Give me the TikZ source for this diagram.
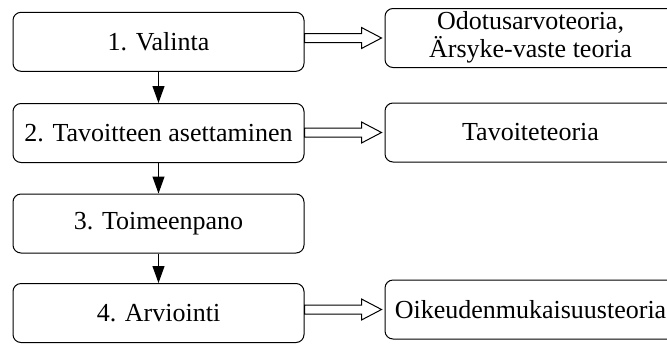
\documentclass[tikz,border=0pt]{standalone}
\usepackage{fontspec}
\setmainfont{Liberation Serif}
\newcommand{\stagefont}{\fontsize{13}{12.3}\selectfont}
\usetikzlibrary{arrows.meta,calc}
\begin{document}
\begin{tikzpicture}[x=0.5pt,y=-0.5pt,
  stage/.style={draw,line width=0.5pt,rounded corners=4pt,minimum width=145.5pt,
    minimum height=29.5pt,inner sep=0pt,align=center,font=\stagefont},
  flow/.style={line width=0.5pt,-{Triangle[length=8.5pt,width=6pt]}},
  blockarrow/.style={draw,line width=0.5pt,fill=white,line join=miter}]
\useasboundingbox (0,0) rectangle (667,343);
\clip (0,0) rectangle (667,343);
% process stages
\node[stage] (s1) at (158.5,41.8) {1. Valinta};
\node[stage] (s2) at (158.5,133) {2. Tavoitteen asettaminen};
\node[stage] (s3) at (158.5,223.5) {3. Toimeenpano};
\node[stage] (s4) at (158.5,313) {4. Arviointi};
% related theories
\node[stage] (t1) at (530.5,38) {\raisebox{-2.5pt}{\begin{tabular}{@{}c@{}}Odotusarvoteoria,\\Ärsyke-vaste teoria\end{tabular}}};
\node[stage] (t2) at (530.5,132.5) {Tavoiteteoria};
\node[stage] (t4) at (530.5,309.5) {Oikeudenmukaisuusteoria};
% sequence of stages
\draw[flow] (s1) -- (s2);
\draw[flow] (s2) -- (s3);
\draw[flow] (s3) -- (s4);
% hollow block arrows from stage to theory
\foreach \s/\t in {s1/t1,s2/t2,s4/t4}{
  \draw[blockarrow] ($(\s.east |- \t.west)+(0,-4.5)$) -- ($(\t.west)+(-23,-4.5)$)
    -- ($(\t.west)+(-23,-10.5)$) -- ($(\t.west)+(-3,0)$)
    -- ($(\t.west)+(-23,10.5)$) -- ($(\t.west)+(-23,4.5)$)
    -- ($(\s.east |- \t.west)+(0,4.5)$) -- cycle;
}
\end{tikzpicture}
\end{document}
